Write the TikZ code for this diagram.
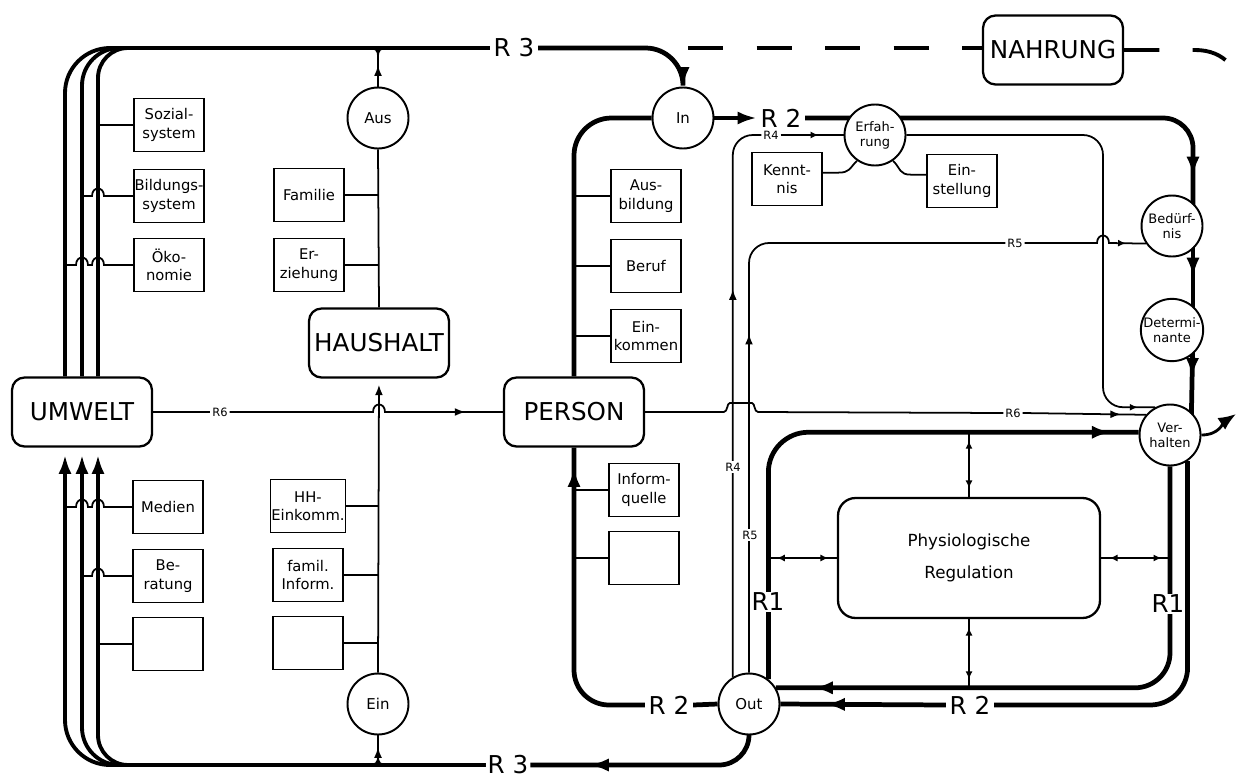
\documentclass[tikz,border=0pt]{standalone}
\usepackage{fontspec}
\setmainfont{DejaVu Sans}
\usetikzlibrary{arrows.meta,calc,backgrounds,decorations.markings}

% small bumps where a line jumps over another one
\newcommand\hopL[1]{-- ($(#1)+(6,0)$) .. controls +(0,-10) and +(0,-10) .. ($(#1)+(-6,0)$)}
\newcommand\hopR[1]{-- ($(#1)+(-6,0)$) .. controls +(0,-10) and +(0,-10) .. ($(#1)+(6,0)$)}
% rounded T junction, #2=1 opens down, #2=-1 opens up
\newcommand\tee[2]{\draw[lnk] ($(#1)+(-9,0)$) .. controls +(7,0) and +(0,{-7*#2}) .. ($(#1)+(0,{9*#2})$) .. controls +(0,{-7*#2}) and +(-7,0) .. ($(#1)+(9,0)$);}

\tikzset{
  lnk/.style={line width=1pt},
  heavy/.style={line width=2.7pt},
  loopln/.style={line width=2.2pt},
  dashln/.style={line width=2.2pt, dash pattern=on 20pt off 19pt},
  bigtip/.style={-{Latex[length=11pt,width=7.5pt]}},
  tipat/.style={postaction={decorate,decoration={markings,mark=at position #1 with {\arrow{Latex[length=11pt,width=7.5pt]}}}}},
  smalltipat/.style={postaction={decorate,decoration={markings,mark=at position #1 with {\arrow{Latex[length=6pt,width=4.5pt]}}}}},
  dotat/.style={postaction={decorate,decoration={markings,mark=at position #1 with {\arrow{Latex[length=4.5pt,width=4pt]}}}}},
  dbl/.style={postaction={decorate,decoration={markings,
      mark=at position 0.17cm with {\arrowreversed{Latex[length=4.5pt,width=4pt]}},
      mark=at position -0.17cm with {\arrow{Latex[length=4.5pt,width=4pt]}}}}},
  box/.style={draw, line width=1.1pt, fill=white, minimum width=1.4cm, minimum height=1.06cm,
      inner sep=0.5pt, align=center, font=\fontsize{8.4}{10.5}\selectfont},
  big/.style={draw, line width=1.3pt, fill=white, rounded corners=0.25cm, minimum width=2.8cm,
      minimum height=1.38cm, inner sep=2pt, font=\fontsize{14}{16}\selectfont},
  port/.style={draw, circle, line width=1.1pt, fill=white, minimum size=1.22cm, inner sep=0pt,
      align=center, font=\fontsize{7.4}{8.6}\selectfont},
  rlab/.style={font=\fontsize{14}{16}\selectfont, inner sep=2pt},
  slab/.style={font=\fontsize{6.5}{7}\selectfont, inner sep=1pt, fill=white},
}

\begin{document}
\begin{tikzpicture}[x=0.02cm, y=-0.02cm]
\useasboundingbox (0,0) rectangle (1237,781);

% main blocks
\node[big] (umwelt) at (82,412) {UMWELT};
\node[big] (haushalt) at (379,343) {HAUSHALT};
\node[big] (person) at (574,412) {PERSON};
\node[big] (nahrung) at (1053,50) {NAHRUNG};
\node[big, minimum width=5.24cm, minimum height=2.4cm, rounded corners=0.35cm, align=center,
  font=\fontsize{9.5}{18}\selectfont] (phys) at (969,558) {Physiologische\\Regulation};

% circles
\node[port, font=\fontsize{8.5}{10}\selectfont] (aus) at (378,118) {Aus};
\node[port, font=\fontsize{8.5}{10}\selectfont] (ein) at (378,704) {Ein};
\node[port, font=\fontsize{8.5}{10}\selectfont] (in) at (683,118) {In};
\node[port, font=\fontsize{8.5}{10}\selectfont] (out) at (749,704) {Out};
\node[port] (erf) at (875,135) {Erfah-\\rung};
\node[port] (bed) at (1172,226) {Bedürf-\\nis};
\node[port] (det) at (1172,330) {Determi-\\nante};
\node[port] (verh) at (1170,435) {Ver-\\halten};

% small boxes
\node[box] (soz) at (169,125) {Sozial-\\system};
\node[box] (bild) at (169,196) {Bildungs-\\system};
\node[box] (oeko) at (169,265) {Öko-\\nomie};
\node[box] (med) at (168,507) {Medien};
\node[box] (ber) at (168,576) {Be-\\ratung};
\node[box] (leerl) at (168,644) {};
\node[box] (fam) at (309,195) {Familie};
\node[box] (erz) at (309,265) {Er-\\ziehung};
\node[box] (hhe) at (308,506) {HH-\\Einkomm.};
\node[box] (finf) at (308,575) {famil.\\Inform.};
\node[box] (leerm) at (308,643) {};
\node[box] (ausb) at (646,196) {Aus-\\bildung};
\node[box] (beruf) at (646,266) {Beruf};
\node[box] (eink) at (646,336) {Ein-\\kommen};
\node[box] (infq) at (644,490) {Inform-\\quelle};
\node[box] (leerp) at (644,558) {};
\node[box] (kenn) at (787,179) {Kennt-\\nis};
\node[box] (einst) at (962,181) {Ein-\\stellung};

% line labels
\node[rlab] (r3t) at (514,48) {R 3};
\node[rlab, inner sep=1pt] (r3b) at (508,765) {R 3};
\node[rlab] (r2t) at (781,118) {R 2};
\node[rlab] (r2l) at (669,705) {R 2};
\node[rlab] (r2r) at (970,705) {R 2};
\node[rlab, fill=white, inner sep=0.5pt] (r1l) at (768,602) {R1};
\node[rlab, fill=white, inner sep=0.5pt] (r1r) at (1168,604) {R1};
\node[slab] (r6a) at (220,412) {R6};
\node[slab] (r6b) at (1013,413) {R6};
\node[slab] (r4v) at (733,467) {R4};
\node[slab] (r4h) at (771,135) {R4};
\node[slab] (r5v) at (750,535) {R5};
\node[slab] (r5h) at (1015,243) {R5};

\coordinate (lo) at (65,0);
\coordinate (lm) at (82,0);
\coordinate (li) at (98,0);
\coordinate (vx) at (1103,0);
\coordinate (dst) at (688,48);
\coordinate (dend) at (1245,100);
\coordinate (vout) at (1236,414);

\begin{scope}[on background layer]
\fill[white] (0,0) rectangle (1237,781);
% left loop
\foreach \lx/\rc in {lo/0.9cm, lm/0.75cm, li/0.6cm}{
  \draw[loopln, rounded corners=\rc] (\lx |- umwelt.north) |- (r3t.west);
  \draw[loopln, rounded corners=\rc, bigtip, shorten >=0.14cm] (r3b.west) -| (\lx |- umwelt.south);
}
\draw[lnk] (soz.west) -- (soz.west -| li);
\draw[lnk] (bild.west) \hopL{bild.west -| li} -- (bild.west -| lm);
\draw[lnk] (oeko.west) \hopL{oeko.west -| li} \hopL{oeko.west -| lm} -- (oeko.west -| lo);
\draw[lnk] (med.west) \hopL{med.west -| li} \hopL{med.west -| lm} -- (med.west -| lo);
\draw[lnk] (ber.west) \hopL{ber.west -| li} -- (ber.west -| lm);
\draw[lnk] (leerl.west) -- (leerl.west -| li);

% R3 and Nahrung
\draw[heavy, bigtip, rounded corners=0.75cm] (r3t.east) -| (in.north);
\draw[dashln] (dst) -- (dst -| nahrung.west);
\draw[dashln] (nahrung.east) -- (1195,50) .. controls (1225,50) and (1240,70) .. (dend);
\draw[heavy, rounded corners=0.6cm, tipat=0.75] (out.south) |- (r3b.east);

% household axis
\draw[lnk, smalltipat=0.55] (aus.north) -- (aus.north |- r3t);
\tee{aus.north |- r3t}{1}
\draw[lnk] (haushalt.north) -- (aus.south);
\draw[lnk, -{Latex[length=6pt,width=4.5pt]}, shorten >=0.12cm] (ein.north) -- (haushalt.south);
\draw[lnk, smalltipat=0.6] (ein.south |- r3b) -- (ein.south);
\tee{ein.south |- r3b}{-1}
\foreach \b in {fam,erz,hhe,finf,leerm}{\draw[lnk] (\b.east) -- (\b.east -| ein.north);}

% person axis
\foreach \b in {ausb,beruf,eink,infq,leerp}{\draw[lnk] (\b.west) -- (\b.west -| person.north);}
\draw[heavy, rounded corners=0.75cm] (person.north) |- (in.west);
\draw[heavy, bigtip] (in.east) -- (r2t.west);
\draw[heavy] (out.west) -- (r2l.east);
\draw[heavy, rounded corners=0.7cm, tipat=-0.4cm] (r2l.west) -| (person.south);

% R6
\draw[lnk] (umwelt.east) -- (r6a.west);
\draw[lnk, smalltipat=-0.75cm] (r6a.east) \hopR{r6a.east -| haushalt.south} -- (person.west);
\draw[lnk] (person.east) -- ($(person.east -| out.121)+(-9,0)$)
  .. controls +(4,0) and +(-3,0) .. ($(person.east -| out.121)+(-3,-9)$)
  -- ($(person.east -| out.north)+(3,-9)$)
  .. controls +(3,0) and +(-4,0) .. ($(person.east -| out.north)+(9,0)$) -- (r6b.west);
\draw[lnk, smalltipat=-0.5cm] (r6b.east) -- (verh.140);

% R4, R5, Erfahrung
\draw[lnk, rounded corners=0.4cm, smalltipat=0.69] (out.121) |- (r4h.west);
\draw[lnk, dotat=-0.5cm] (r4h.east) -- (erf.west);
\draw[lnk, rounded corners=0.4cm, smalltipat=0.5] (out.north) |- (r5h.west);
\draw[lnk, dotat=-0.4cm] (r5h.east) \hopR{r5h.east -| vx} -- (bed.214);
\draw[lnk, rounded corners=0.4cm, dotat=-0.35cm] (erf.east) -| (vx |- verh.118) -- (verh.118);
\draw[lnk] (kenn.10) -- ++(15,0) .. controls +(12,0) and +(-8,8) .. (erf.235);
\draw[lnk] (erf.305) .. controls +(8,8) and +(-12,0) .. ($(einst.170)+(-15,0)$) -- (einst.170);

% R2 chain on the right
\draw[heavy, rounded corners=0.6cm, tipat=-1.0cm] (r2t.east) -| ($(bed.center)+(21,0)$);
\draw[heavy, tipat=0.49] ($(bed.center)+(21,0)$) -- ($(det.center)+(21,0)$);
\draw[heavy, tipat=0.45] ($(det.center)+(21,0)$) -- ($(verh.center)+(21,0)$);
\draw[line width=1.6pt, -{Latex[length=10pt,width=8pt]}] (verh.east) .. controls +(18,0) and +(-12,8) .. (vout);

% R1 / R2 around the regulation
\draw[heavy, rounded corners=0.8cm, tipat=-0.55cm] (out.52) |- (verh.175);
\draw[heavy, rounded corners=0.7cm, tipat=-0.75cm] (verh.south) |- (out.31);
\draw[heavy, rounded corners=0.75cm] (verh.-56) |- (r2r.east);
\draw[heavy, tipat=-0.9cm] (r2r.west) -- (out.east);
\draw[lnk, dbl] (phys.north) -- (phys.north |- verh.175);
\draw[lnk, dbl] (phys.south) -- (phys.south |- out.31);
\draw[lnk, dbl] (phys.west) -- (phys.west -| out.52);
\draw[lnk, dbl] (phys.east) -- (phys.east -| verh.south);
\end{scope}
\end{tikzpicture}
\end{document}
